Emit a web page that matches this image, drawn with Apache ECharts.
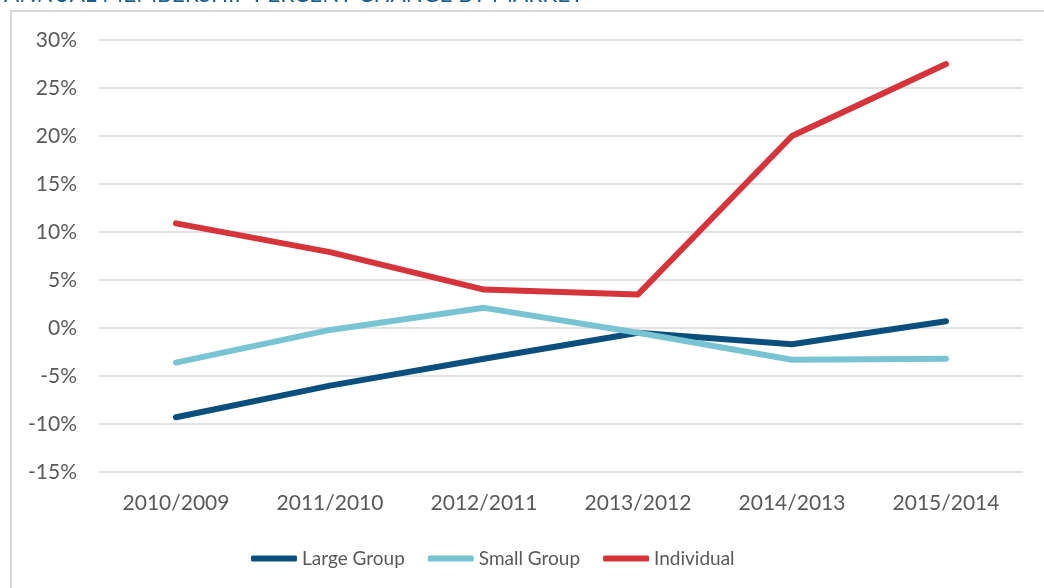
<!DOCTYPE html>
<html>
<head>
<meta charset="utf-8">
<script src="https://cdn.jsdelivr.net/npm/echarts@6/dist/echarts.min.js"></script>
<style>
  html, body { margin: 0; padding: 0; background: #fff; }
  #main { width: 1044px; height: 588px; }
</style>
</head>
<body>
<div id="main"></div>
<script>
// 各市场会员年度变化百分比
var years = ['2010/2009', '2011/2010', '2012/2011', '2013/2012', '2014/2013', '2015/2014']
var largeGroup = [-9.3, -6.0, -3.2, -0.5, -1.7, 0.7]
var smallGroup = [-3.6, -0.2, 2.1, -0.5, -3.3, -3.2]
var individual = [10.9, 7.9, 4.0, 3.5, 20.0, 27.5]

var font = 'Lato'
var textColor = '#595959'

var myChart = echarts.init(document.getElementById('main'))

function lineSeries(name, data, color) {
    return {
        name: name,
        type: 'line',
        data: data,
        symbol: 'none',
        lineStyle: { width: 6, color: color, cap: 'round', join: 'round' },
        itemStyle: { color: color }
    }
}

var option = {
    animation: false,
    title: {
        text: 'ANNUAL MEMBERSHIP PERCENT CHANGE BY MARKET',
        left: -1,
        top: -22,
        textStyle: { fontFamily: font, fontSize: 22.5, fontWeight: 'normal', color: '#1a5e8c' }
    },
    graphic: [{
        type: 'rect',
        shape: { x: 11, y: 11, width: 1100, height: 700 },
        style: { fill: 'none', stroke: '#d9d9d9', lineWidth: 2 },
        silent: true
    }],
    grid: { left: 99, right: 21, top: 40, bottom: 116 },
    legend: {
        orient: 'horizontal',
        left: 246,
        top: 544,
        icon: 'roundRect',
        itemWidth: 46,
        itemHeight: 6,
        itemGap: 23,
        textStyle: { fontFamily: font, fontSize: 19, color: textColor },
        data: ['Large Group', 'Small Group', 'Individual']
    },
    xAxis: {
        type: 'category',
        data: years,
        axisLine: { show: false },
        axisTick: { show: false },
        axisLabel: { fontFamily: font, fontSize: 21, color: textColor, margin: 21 }
    },
    yAxis: {
        type: 'value',
        min: -15,
        max: 30,
        interval: 5,
        axisLine: { show: false },
        axisTick: { show: false },
        axisLabel: { formatter: '{value}%', fontFamily: font, fontSize: 21, color: textColor, margin: 22 },
        splitLine: { lineStyle: { color: '#d9d9d9', width: 1.5 } }
    },
    series: [
        lineSeries('Large Group', largeGroup, '#0b4f7d'),
        lineSeries('Small Group', smallGroup, '#79c4d3'),
        lineSeries('Individual', individual, '#d5343b')
    ]
}

myChart.setOption(option)
</script>
</body>
</html>
